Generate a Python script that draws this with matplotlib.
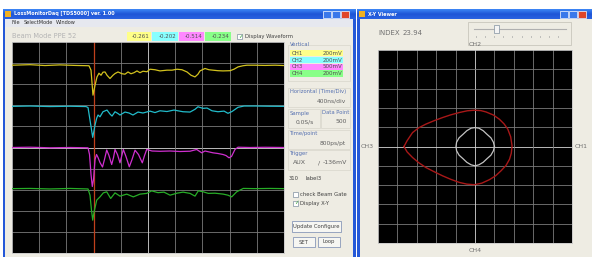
import numpy as np
import matplotlib
matplotlib.use('Agg')
import matplotlib.pyplot as plt
from matplotlib.patches import Rectangle

W, H = 592, 257

# scope channel settings / readouts
ch_names = ['CH1', 'CH2', 'CH3', 'CH4']
ch_scale = [200, 200, 500, 200]            # mV/div
ch_pos = [3.9, 1.95, 0.0, -1.95]           # trace position, div
readouts = ['-0.261', '-0.202', '-0.514', '-0.234']
time_div = 400                             # ns/div
trig_ns = 1200

# waveforms, time in ns, amplitude in mV
t1 = [0, 265, 485, 706, 926, 1132, 1162, 1191, 1221, 1250, 1279, 1309, 1338, 1368, 1397, 1441, 1485, 1515,
      1559, 1618, 1662, 1706, 1750, 1794, 1838, 1882, 1926, 1985, 2029, 2103, 2176, 2279, 2353, 2426, 2500,
      2574, 2632, 2691, 2735, 2765, 2838, 2897, 2956, 3029, 3103, 3206, 3265, 3324, 3397, 3456, 3574, 3721,
      3868, 4000]
v1 = [0, 5, -3, 3, -2, -5, -47, -284, -190, -111, -76, -95, -66, -64, -95, -126, -95, -79, -64, -81, -85,
      -64, -81, -71, -54, -71, -57, -62, -38, -43, -54, -47, -47, -38, -43, -64, -95, -111, -85, -54, -31,
      -43, -47, -52, -54, -52, -38, -16, -5, 0, 0, -2, 0, -3]

t2 = [0, 265, 559, 853, 1088, 1118, 1147, 1187, 1221, 1246, 1265, 1294, 1338, 1397, 1441, 1471, 1515, 1559,
      1588, 1662, 1721, 1779, 1853, 1926, 2029, 2103, 2176, 2279, 2382, 2515, 2618, 2691, 2735, 2809, 2868,
      2941, 3029, 3118, 3176, 3235, 3324, 3412, 3574, 3794, 4000]
v2 = [0, 3, -2, 1, -2, -11, -130, -294, -177, -111, -82, -99, -51, -35, -73, -92, -51, -68, -82, -54, -63,
      -82, -54, -63, -45, -59, -42, -49, -35, -51, -54, -28, -4, -19, -16, -42, -51, -45, -66, -49, -9, 3,
      3, 1, 0]

t3 = [0, 265, 559, 853, 1118, 1140, 1162, 1181, 1199, 1221, 1243, 1265, 1294, 1331, 1360, 1393, 1426, 1466,
      1493, 1515, 1551, 1588, 1615, 1637, 1676, 1725, 1765, 1809, 1860, 1916, 1949, 1981, 2059, 2176, 2324,
      2471, 2618, 2716, 2790, 2838, 2956, 3029, 3103, 3147, 3191, 3228, 3279, 3324, 3500, 3721, 4000]
v3 = [0, 7, -7, 0, -7, -166, -640, -924, -758, -284, -166, -237, -356, -462, -284, -59, -190, -403, -237,
      -47, -166, -363, -190, -47, -213, -457, -284, -64, -166, -363, -190, -47, -83, -90, -83, -95, -88, -47,
      -126, -83, -126, -142, -166, -190, -244, -213, -47, 7, 0, 5, 0]

t4 = [0, 265, 559, 853, 1118, 1147, 1169, 1187, 1206, 1246, 1294, 1343, 1393, 1451, 1515, 1588, 1687, 1784,
      1882, 1981, 2054, 2147, 2235, 2324, 2426, 2515, 2618, 2691, 2740, 2813, 2887, 2985, 3107, 3176, 3231,
      3304, 3401, 3574, 3794, 4000]
v4 = [0, 2, -3, 2, -3, -62, -204, -299, -223, -109, -78, -40, -30, -93, -40, -71, -52, -78, -52, -45, -21,
      -38, -33, -62, -43, -33, -45, -71, -21, -30, -45, -43, -52, -62, -78, -30, 2, 0, 2, 0]

# X-Y viewer loops (div)
red_x = [-3.66, -3.5, -3.22, -2.9, -2.53, -2.1, -1.67, -1.25, -0.81, -0.4, -0.03, 0.3, 0.57, 0.95, 1.26,
         1.5, 1.69, 1.84, 1.91, 1.87, 1.78, 1.6, 1.34, 1.06, 0.74, 0.35, -0.03, -0.42, -0.81, -1.25, -1.67,
         -2.1, -2.53, -2.9, -3.22, -3.5, -3.66]
red_y = [0, 0.3, 0.72, 0.97, 1.16, 1.34, 1.5, 1.64, 1.76, 1.85, 1.88, 1.86, 1.79, 1.63, 1.41, 1.17, 0.9,
         0.5, 0.03, -0.35, -0.66, -0.98, -1.26, -1.52, -1.72, -1.9, -1.98, -1.95, -1.86, -1.7, -1.52, -1.31,
         -1.09, -0.84, -0.57, -0.28, 0]
gray_x = [1.0, 0.95, 0.82, 0.62, 0.42, 0.2, 0, -0.2, -0.42, -0.62, -0.82, -0.95, -0.98, -0.95, -0.82, -0.62,
          -0.42, -0.2, 0, 0.2, 0.42, 0.62, 0.82, 0.95, 1.0]
gray_y = [0, 0.22, 0.45, 0.63, 0.82, 0.95, 0.98, 0.95, 0.82, 0.63, 0.45, 0.22, 0, -0.22, -0.45, -0.63, -0.82,
          -0.95, -1.0, -0.95, -0.82, -0.63, -0.45, -0.22, 0]

trace_cols = ['#d2c21e', '#22bccb', '#cf2fcf', '#27ad27']
box_cols = ['#ffff88', '#88ffff', '#ff88ff', '#88ff88']
beige = '#eeece3'
xpblue = '#2458d8'

fig = plt.figure(figsize=(W / 100, H / 100), dpi=100)
bg = fig.add_axes([0, 0, 1, 1])
bg.set_xlim(0, W)
bg.set_ylim(H, 0)
bg.axis('off')


def rect(x0, y0, x1, y1, fc, ec='none', lw=0.5, z=1):
    bg.add_patch(Rectangle((x0, y0), x1 - x0, y1 - y0, fc=fc, ec=ec, lw=lw, zorder=z))


def txt(x, y, s, size=4.3, color='#404040', ha='left', **kw):
    bg.text(x, y, s, fontsize=size, color=color, ha=ha, va='center', zorder=5, **kw)


def titlebar(x0, x1, title):
    grad = np.linspace(0, 1, 20).reshape(-1, 1)
    bg.imshow(grad, extent=(x0, x1, 19, 9), cmap=matplotlib.colors.LinearSegmentedColormap.from_list(
        'xp', ['#3d86f5', '#1e55d6', '#2a62e0']), aspect='auto', zorder=2)
    rect(x0 + 2, 11, x0 + 8, 17, '#f0b020', z=3)
    txt(x0 + 11, 14, title, size=3.5, color='white', weight='bold')


# windows
rect(0, 0, W, H, 'white', z=0)
rect(3, 9, 356, H, xpblue)
rect(5, 19, 353, H, beige)
rect(5, 19, 353, 27, '#e6e8ef')
titlebar(3, 356, 'LossMonitorDaq [TDS5000] ver. 1.00')
for bx, c in [(323, '#3a78ea'), (332, '#3a78ea'), (341, '#e0462a')]:
    rect(bx, 10.5, bx + 8, 18, c, ec='white', lw=0.5, z=3)
for x, s in [(11, 'File'), (24, 'SelectMode'), (56, 'Window')]:
    txt(x, 23, s, size=3.6, color='#303030')

rect(357, 9, W, H, xpblue)
rect(360, 19, W, H, beige)
titlebar(357, W, 'X-Y Viewer')
for bx, c in [(560, '#3a78ea'), (569, '#3a78ea'), (578, '#e0462a')]:
    rect(bx, 10.5, bx + 8, 18, c, ec='white', lw=0.5, z=3)

# top bar of scope window
txt(12, 36.5, 'Beam Mode PPE 52', size=4.8, color='#b4b4b4')
box_x = [127, 152, 179, 205, 232]
for i in range(4):
    rect(box_x[i], 32, box_x[i + 1] - 1, 41, box_cols[i])
    txt(box_x[i + 1] - 3, 36.5, readouts[i], size=4.0, color='#505050', ha='right')
rect(237, 34, 242, 39, 'white', ec='#8090a0', z=3)
txt(238, 36.2, '\u2713', size=4, color='#30a030')
txt(245, 36.5, 'Display Waveform', size=3.8)

# right-hand settings panel
lab = '#5570b0'
for (x0, y0, x1, y1) in [(288, 45, 350, 81), (288, 88, 350, 107), (288, 109, 320, 128), (321, 109, 350, 128),
                         (288, 130, 350, 149), (288, 150, 350, 170)]:
    rect(x0, y0, x1, y1, 'none', ec='#d8d6cc', lw=0.5)
txt(290, 44, 'Vertical', size=3.8, color=lab)
for i in range(4):
    y0 = 50 + i * 6.8
    rect(290, y0, 343, y0 + 6.3, box_cols[i])
    txt(292, y0 + 3.2, ch_names[i], size=4.0, color='#505050')
    txt(342, y0 + 3.2, '%dmV' % ch_scale[i], size=4.0, color='#505050', ha='right')
txt(290, 92, 'Horizontal (Time/Div)', size=3.8, color=lab)
txt(346, 101, '%dns/div' % time_div, size=4.3, ha='right', color='#606060')
txt(290, 113, 'Sample', size=3.8, color=lab)
txt(322, 113, 'Data Point', size=3.8, color=lab)
txt(296, 121.5, '0.0S/s', size=4.3, color='#606060')
txt(347, 121.5, '500', size=4.3, ha='right', color='#606060')
txt(290, 134, 'Time/point', size=3.8, color=lab)
txt(346, 143, '800ps/pt', size=4.3, ha='right', color='#606060')
txt(290, 154, 'Trigger', size=3.8, color=lab)
txt(293, 163, 'AUX', size=4.5, color='#606060')
txt(318, 163, '/', size=4.5, color='#606060')
txt(347, 163, '-136mV', size=4.5, ha='right', color='#606060')
txt(289, 179, '310', size=3.8, color='#404040')
txt(305, 179, 'label3', size=3.8, color='#404040')
rect(293, 191.5, 298, 196.5, 'white', ec='#8090a0', z=3)
txt(300, 194, 'check Beam Gate', size=3.8)
rect(293, 200.5, 298, 205.5, 'white', ec='#8090a0', z=3)
txt(294, 202.8, '\u2713', size=4, color='#30a030')
txt(300, 203, 'Display X-Y', size=3.8)
for (x0, y0, x1, y1, s) in [(292, 221, 341, 232, 'Update Configure'), (293, 237, 315, 247, 'SET'),
                            (318, 237, 340, 247, 'Loop')]:
    rect(x0, y0, x1, y1, '#f6f6f2', ec='#8898b8', lw=0.6, z=2)
    txt((x0 + x1) / 2, (y0 + y1) / 2, s, size=3.8, ha='center')

# X-Y window labels
txt(378, 33, 'INDEX', size=5, color='#707070')
txt(403, 33, '23.94', size=5, color='#707070')
rect(468, 22, 571, 45, 'none', ec='#c8c6bc', lw=0.6)
bg.plot([474, 566], [29, 29], color='#b0b0b0', lw=0.8, zorder=3)
rect(494, 25, 499, 33, '#f4f4f4', ec='#8090a0', z=4)
for tx in np.arange(476, 567, 9.1):
    bg.plot([tx, tx], [36, 37.2], color='#a0a0a0', lw=0.5, zorder=3)
txt(475, 45, 'CH2', size=4.5, color='#707070', ha='center')
txt(361, 147, 'CH3', size=4.5, color='#707070')
txt(588, 147, 'CH1', size=4.5, color='#707070', ha='right')
txt(475, 251, 'CH4', size=4.5, color='#707070', ha='center')


def px_axes(x0, y0, x1, y1):
    ax = fig.add_axes([x0 / W, 1 - y1 / H, (x1 - x0) / W, (y1 - y0) / H])
    ax.set_facecolor('black')
    ax.set_xticks([])
    ax.set_yticks([])
    for s in ax.spines.values():
        s.set_color('#c8c8c8')
        s.set_linewidth(0.6)
    return ax


# oscilloscope
sc = px_axes(12, 42, 284, 253)
sc.set_xlim(0, 10 * time_div)
sc.set_ylim(-5, 5)
for k in range(1, 10):
    c = '#d8d8d8' if k == 5 else '#7a7a7a'
    sc.axvline(k * time_div, color=c, lw=0.6, zorder=1)
    sc.axhline(k - 5, color=c, lw=0.6, zorder=1)
sc.axvline(trig_ns, color='#c0401c', lw=0.9, zorder=2)
for t, v, i in [(t1, v1, 0), (t2, v2, 1), (t3, v3, 2), (t4, v4, 3)]:
    sc.plot(t, ch_pos[i] + np.array(v) / ch_scale[i], color=trace_cols[i], lw=0.9, zorder=3)

# x-y viewer
xy = px_axes(378, 50, 572, 243)
xy.set_xlim(-5, 5)
xy.set_ylim(-5, 5)
for k in range(-4, 5):
    c = '#d8d8d8' if k == 0 else '#7a7a7a'
    xy.axvline(k, color=c, lw=0.6, zorder=1)
    xy.axhline(k, color=c, lw=0.6, zorder=1)
xy.plot(red_x, red_y, color='#a81818', lw=1.0, zorder=3)
xy.plot(gray_x, gray_y, color='#c4c4c4', lw=0.9, zorder=3)

fig.savefig('out.png', dpi=100, facecolor='white')
